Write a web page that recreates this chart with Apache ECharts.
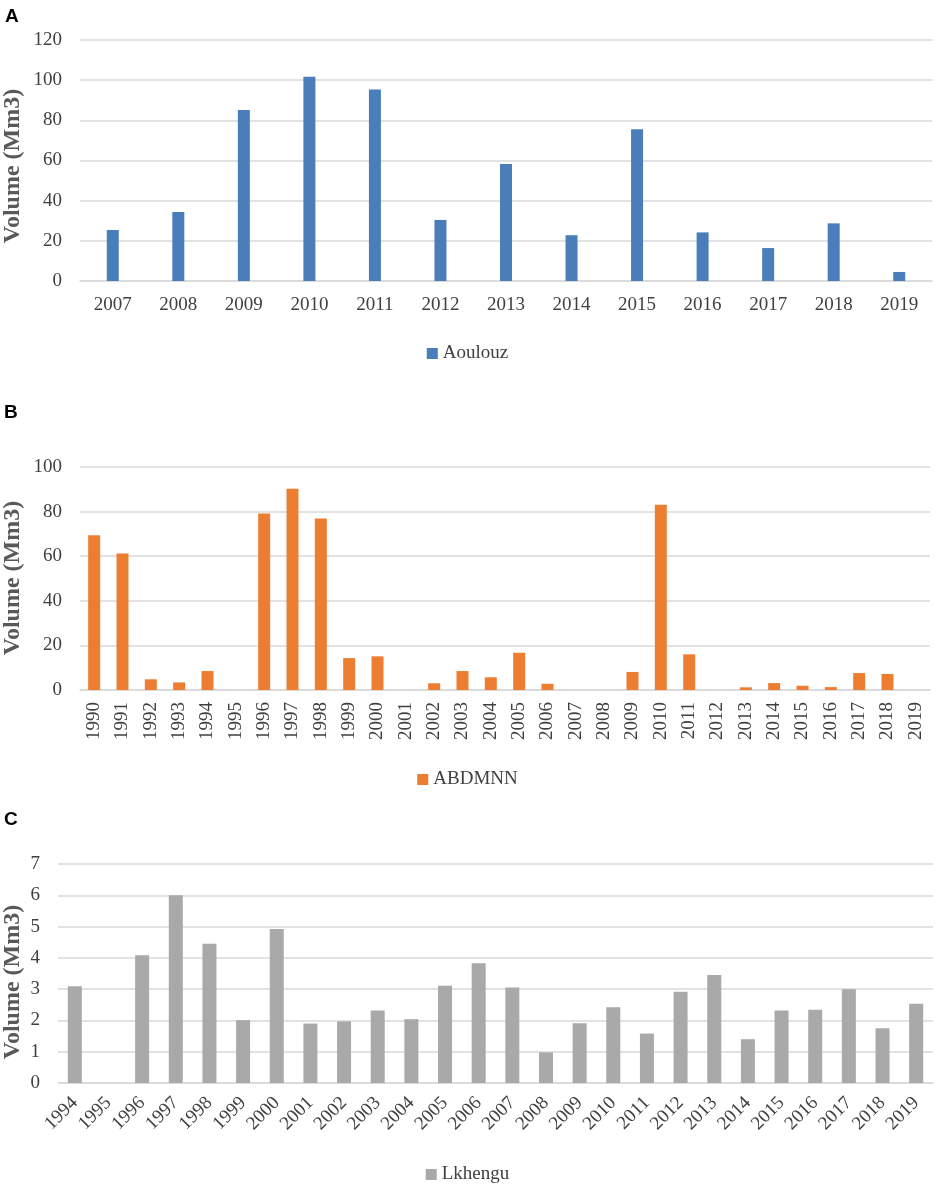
<!DOCTYPE html>
<html>
<head>
<meta charset="utf-8">
<script src="https://cdn.jsdelivr.net/npm/echarts@6/dist/echarts.min.js"></script>
<style>
  html, body { margin: 0; padding: 0; background: #fff; }
  #chart { width: 935px; height: 1189px; }
</style>
</head>
<body>
<div id="chart"></div>
<script>
// Panel A - Aoulouz
var yearsA = ['2007', '2008', '2009', '2010', '2011', '2012', '2013', '2014', '2015', '2016', '2017', '2018', '2019'];
var aoulouz = [25.4, 34.4, 85.2, 101.7, 95.4, 30.4, 58.3, 22.8, 75.5, 24.2, 16.4, 28.7, 4.5];

// Panel B - ABDMNN
var yearsB = ['1990', '1991', '1992', '1993', '1994', '1995', '1996', '1997', '1998', '1999',
              '2000', '2001', '2002', '2003', '2004', '2005', '2006', '2007', '2008', '2009',
              '2010', '2011', '2012', '2013', '2014', '2015', '2016', '2017', '2018', '2019'];
var abdmnn = [69.4, 61.2, 4.8, 3.4, 8.5, 0, 79.1, 90.3, 76.9, 14.3,
              15.1, 0, 3.0, 8.5, 5.7, 16.7, 2.8, 0, 0, 8.1,
              83.1, 16.0, 0, 1.2, 3.1, 1.9, 1.3, 7.6, 7.2, 0];

// Panel C - Lkhengu
var yearsC = ['1994', '1995', '1996', '1997', '1998', '1999', '2000', '2001', '2002', '2003',
              '2004', '2005', '2006', '2007', '2008', '2009', '2010', '2011', '2012', '2013',
              '2014', '2015', '2016', '2017', '2018', '2019'];
var lkhengu = [3.09, 0, 4.08, 6.0, 4.45, 2.01, 4.92, 1.90, 1.97, 2.32,
               2.04, 3.11, 3.83, 3.05, 0.98, 1.91, 2.42, 1.58, 2.92, 3.45,
               1.40, 2.32, 2.34, 3.0, 1.75, 2.53];

var yTicksA = { min: 0, max: 120, interval: 20 };
var yTicksB = { min: 0, max: 100, interval: 20 };
var yTicksC = { min: 0, max: 7, interval: 1 };

var serif = '"Liberation Serif", "Times New Roman", serif';
var textColor = '#404040';
var gridColor = '#d9d9d9';

function makeX(idx, cats, rotate, margin) {
    return {
        type: 'category',
        gridIndex: idx,
        data: cats,
        axisLine: { show: true, lineStyle: { color: gridColor, width: 1.5 } },
        axisTick: { show: false },
        axisLabel: {
            interval: 0,
            rotate: rotate,
            margin: margin,
            color: textColor,
            fontFamily: serif,
            fontSize: 19
        }
    };
}

function makeY(idx, ticks) {
    return {
        type: 'value',
        gridIndex: idx,
        min: ticks.min,
        max: ticks.max,
        interval: ticks.interval,
        axisLine: { show: false },
        axisTick: { show: false },
        axisLabel: { color: textColor, fontFamily: serif, fontSize: 19, margin: 18 },
        splitLine: { lineStyle: { color: gridColor, width: 1.5 } }
    };
}

function makeBar(name, idx, values, color, width) {
    return {
        name: name,
        type: 'bar',
        xAxisIndex: idx,
        yAxisIndex: idx,
        data: values,
        barWidth: width,
        itemStyle: { color: color }
    };
}

function makeLegend(name, top) {
    return {
        data: [name],
        top: top,
        left: 'center',
        icon: 'rect',
        itemWidth: 11,
        itemHeight: 11,
        itemGap: 6,
        textStyle: { color: textColor, fontFamily: serif, fontSize: 19 }
    };
}

// rotated axis title, Excel centres it a bit off the plot middle
function axisTitle(cy) {
    return {
        type: 'text',
        x: 13,
        y: cy,
        rotation: Math.PI / 2,
        style: {
            text: 'Volume (Mm3)',
            fill: '#595959',
            font: 'bold 24px ' + serif,
            align: 'center',
            verticalAlign: 'middle'
        }
    };
}

var letterStyle = { fontFamily: '"Liberation Sans", Arial, sans-serif', fontWeight: 'bold', fontSize: 19, color: '#000' };

var option = {
    animation: false,
    backgroundColor: '#fff',
    title: [
        { text: 'A', left: 5, top: 7, padding: 0, textStyle: letterStyle },
        { text: 'B', left: 4, top: 403, padding: 0, textStyle: letterStyle },
        { text: 'C', left: 4, top: 810, padding: 0, textStyle: letterStyle }
    ],
    graphic: [
        axisTitle(166),
        axisTitle(578),
        axisTitle(982)
    ],
    grid: [
        { left: 80, right: 3, top: 40, height: 241 },
        { left: 80, right: 5, top: 467, height: 223 },
        { left: 58, right: 2, top: 864, height: 219 }
    ],
    xAxis: [
        makeX(0, yearsA, 0, 15),
        makeX(1, yearsB, 90, 12),
        makeX(2, yearsC, 45, 17)
    ],
    yAxis: [
        makeY(0, yTicksA),
        makeY(1, yTicksB),
        makeY(2, yTicksC)
    ],
    legend: [
        makeLegend('Aoulouz', 339),
        makeLegend('ABDMNN', 765),
        makeLegend('Lkhengu', 1160)
    ],
    series: [
        makeBar('Aoulouz', 0, aoulouz, '#4a7ebb', 12),
        makeBar('ABDMNN', 1, abdmnn, '#ed7d31', 12),
        makeBar('Lkhengu', 2, lkhengu, '#a9a9a9', 14)
    ]
};

var chart = echarts.init(document.getElementById('chart'));
chart.setOption(option);
</script>
</body>
</html>
